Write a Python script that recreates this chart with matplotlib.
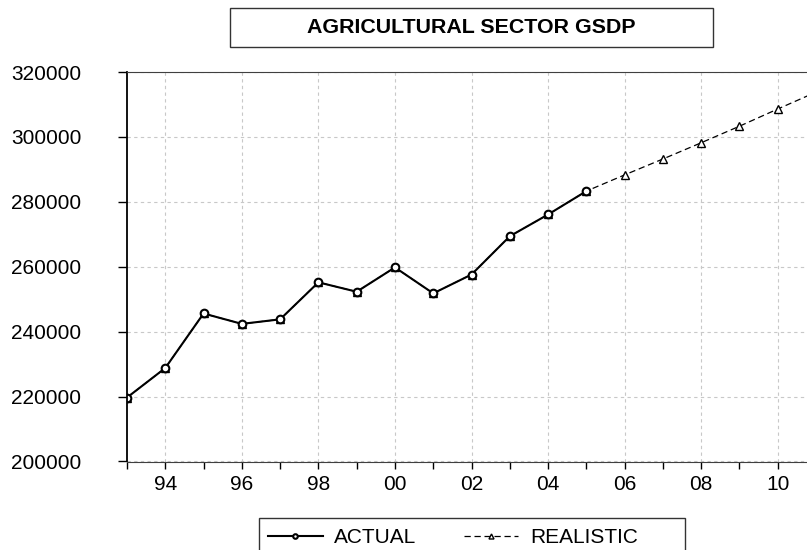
import matplotlib
matplotlib.use('Agg')
import matplotlib.pyplot as plt
from matplotlib.patches import Rectangle
from matplotlib.ticker import MultipleLocator, FuncFormatter

plt.rcParams['font.family'] = ['Liberation Sans', 'DejaVu Sans']

years_actual = [1993, 1994, 1995, 1996, 1997, 1998, 1999, 2000, 2001, 2002, 2003, 2004, 2005]
actual = [219700, 228800, 245600, 242400, 243800, 255200, 252300, 259800, 251800, 257600, 269400, 276100, 283300]

years_forecast = [2005, 2006, 2007, 2008, 2009, 2010, 2011]
realistic = [283300, 288300, 293200, 298200, 303300, 308600, 313800]

title = 'AGRICULTURAL SECTOR GSDP'

W, H = 807, 550
fig = plt.figure(figsize=(W / 100, H / 100), dpi=100)

# axes: left edge at 1993, right spine (2011) falls just off the figure
left, top, bottom = 127, 72, 461.5
px_per_year = 38.28
right = left + (2011 - 1993) * px_per_year
ax = fig.add_axes([left / W, 1 - bottom / H, (right - left) / W, (bottom - top) / H])

# realistic path runs over the actual years too (triangles hidden under circles)
years_real = years_actual + years_forecast[1:]
real_vals = actual + realistic[1:]
l2, = ax.plot(years_real, real_vals, color='black', lw=0.9, ls=(0, (5, 3)),
              marker='^', ms=6, mfc='white', mec='black', mew=1.0, label='REALISTIC')
l1, = ax.plot(years_actual, actual, color='black', lw=1.5,
              marker='o', ms=5.5, mfc='white', mec='black', mew=1.5, label='ACTUAL')

ax.set_xlim(1993, 2011)
ax.set_ylim(200000, 320000)
ax.yaxis.set_major_locator(MultipleLocator(20000))
ax.xaxis.set_major_locator(MultipleLocator(2))
ax.xaxis.set_minor_locator(MultipleLocator(1))
ax.xaxis.set_major_formatter(FuncFormatter(lambda v, p: '%02d' % (int(round(v)) % 100)))

ax.grid(True, which='major', color='#c8c8c8', ls=(0, (3, 3)), lw=0.8)
ax.set_axisbelow(True)

ax.tick_params(axis='y', direction='out', length=6.5, width=1, pad=26.5, labelsize=15)
ax.tick_params(axis='x', which='both', direction='out', length=5, width=1, pad=5, labelsize=15)
ax.tick_params(axis='x', which='minor', labelbottom=False)

ax.spines['left'].set_color('black')
ax.spines['left'].set_linewidth(1.3)
ax.spines['bottom'].set_color('#404040')
ax.spines['top'].set_color('#404040')
ax.spines['right'].set_visible(False)

# title box
fig.patches.append(Rectangle((230 / W, 1 - 47 / H), 483 / W, 39 / H, transform=fig.transFigure,
                             fill=False, edgecolor='#333333', lw=1.0))
fig.text(471.5 / W, 1 - 27.5 / H, title, ha='center', va='center',
         fontsize=15.4, fontweight='bold')

# legend box runs past the bottom edge of the picture
fig.patches.append(Rectangle((259 / W, 1 - 560 / H), 426 / W, 42 / H, transform=fig.transFigure,
                             fill=False, edgecolor='#333333', lw=1.0))
leg = fig.legend([l1, l2], ['ACTUAL', 'REALISTIC'], loc='upper left',
                 bbox_to_anchor=(259 / W, 1 - 519 / H), ncol=2, fontsize=15,
                 frameon=False, borderpad=0.45, handlelength=2.6, handletextpad=0.55,
                 columnspacing=2.3, markerscale=0.6, borderaxespad=0)

fig.savefig('out.png', dpi=100)
